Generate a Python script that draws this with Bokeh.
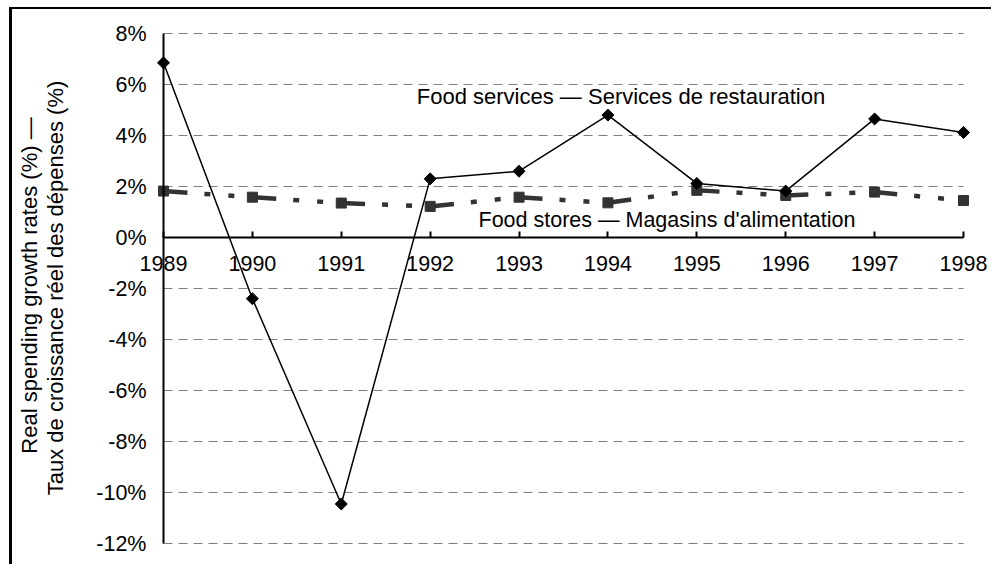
import math
from bokeh.plotting import figure
from bokeh.models import Range1d, FixedTicker, Label
from bokeh.embed import file_html
from bokeh.resources import INLINE

# ---- data ----
years = [1989, 1990, 1991, 1992, 1993, 1994, 1995, 1996, 1997, 1998]
food_services = [6.85, -2.4, -10.45, 2.3, 2.6, 4.8, 2.12, 1.82, 4.65, 4.12]
food_stores = [1.82, 1.58, 1.35, 1.22, 1.58, 1.36, 1.85, 1.65, 1.78, 1.45]
y_ticks = [-12, -10, -8, -6, -4, -2, 0, 2, 4, 6, 8]
services_label = "Food services \u2014 Services de restauration"
stores_label = "Food stores \u2014 Magasins d'alimentation"
y_title_1 = "Real spending growth rates (%) \u2014"
y_title_2 = "Taux de croissance r\u00e9el des d\u00e9penses (%)"

FONT = "Liberation Sans"

# ---- layout (canvas pixels; canvas sits at page offset 12, 9) ----
OFF_X, OFF_Y = 12, 9
W, H = 982, 557
AX_LEFT, AX_RIGHT = 163 - OFF_X, 963 - OFF_X    # columns of first / last year
AX_TOP, AX_BOTTOM = 33 - OFF_Y, 543 - OFF_Y     # rows of top / bottom y tick
ppx = (AX_RIGHT - AX_LEFT) / (years[-1] - years[0])
ppy = (AX_BOTTOM - AX_TOP) / (y_ticks[-1] - y_ticks[0])
x_start = years[0] - AX_LEFT / ppx
x_end = years[-1] + (W - AX_RIGHT) / ppx
y_end = y_ticks[-1] + AX_TOP / ppy
y_start = y_ticks[0] - (H - AX_BOTTOM) / ppy


def px_x(page_x):
    return years[0] + (page_x - OFF_X - AX_LEFT) / ppx


def px_y(page_y):
    return y_ticks[-1] - (page_y - OFF_Y - AX_TOP) / ppy


p = figure(width=W, height=H, output_backend="svg", toolbar_location=None,
           x_range=Range1d(x_start, x_end), y_range=Range1d(y_start, y_end),
           min_border_left=0, min_border_right=0,
           min_border_top=0, min_border_bottom=0)
p.outline_line_color = None
p.background_fill_color = "white"
p.border_fill_color = "white"
p.styles = {"margin-left": "9px", "margin-top": "7px",
            "border-left": "3px solid black", "border-top": "2px solid black"}

# grid lines (span only the plotted years)
p.xgrid.visible = False
p.ygrid.visible = False
n = len(y_ticks)
p.segment(x0=[years[0]] * n, x1=[years[-1]] * n, y0=y_ticks, y1=y_ticks,
          line_color="#808080", line_width=1, line_dash="9 6")

# y axis
yax = p.yaxis[0]
yax.fixed_location = years[0]
yax.bounds = (y_ticks[0], y_ticks[-1])
yax.ticker = FixedTicker(ticks=y_ticks)
yax.major_label_overrides = {t: f"{t}%" for t in y_ticks}
yax.major_tick_in = 0
yax.major_tick_out = 0
yax.minor_tick_in = 0
yax.minor_tick_out = 0
yax.axis_line_width = 2
yax.axis_line_color = "black"
yax.major_label_text_font = FONT
yax.major_label_text_font_size = "21.5px"
yax.major_label_text_color = "black"
yax.major_label_standoff = 17

# x axis
xax = p.xaxis[0]
xax.fixed_location = 0
xax.ticker = FixedTicker(ticks=years)
xax.bounds = (years[0], years[-1])
xax.major_label_overrides = {y: str(y) for y in years}
xax.major_tick_in = 6
xax.major_tick_out = 0
xax.major_tick_line_width = 2
xax.major_tick_line_color = "black"
xax.minor_tick_in = 0
xax.minor_tick_out = 0
xax.axis_line_width = 2
xax.axis_line_color = "black"
xax.major_label_text_font = FONT
xax.major_label_text_font_size = "21.5px"
xax.major_label_text_color = "black"
xax.major_label_standoff = 18

# series
p.line(years, food_stores, line_color="#333333", line_width=4.5,
       line_dash="24 17 6 18 6 18")
p.scatter(years, food_stores, marker="square", size=10, color="#333333")
p.line(years, food_services, line_color="black", line_width=1.5)
p.scatter(years, food_services, marker="square", angle=math.pi / 4, size=8.5,
          color="black")

# series labels
p.add_layout(Label(x=px_x(620.5), y=px_y(95.8), text=services_label,
                   text_align="center", text_baseline="middle", text_font=FONT,
                   text_font_size="22px", text_color="black"))
p.add_layout(Label(x=px_x(666.5), y=px_y(219.5), text=stores_label,
                   text_align="center", text_baseline="middle", text_font=FONT,
                   text_font_size="21.5px", text_color="black"))

# y axis title (two rotated lines)
p.add_layout(Label(x=px_x(28.5), y=px_y(285), text=y_title_1, angle=math.pi / 2,
                   text_align="center", text_baseline="middle", text_font=FONT,
                   text_font_size="22px", text_color="black"))
p.add_layout(Label(x=px_x(55), y=px_y(287.5), text=y_title_2, angle=math.pi / 2,
                   text_align="center", text_baseline="middle", text_font=FONT,
                   text_font_size="22px", text_color="black"))

open("out.html", "w").write(file_html(p, INLINE))
